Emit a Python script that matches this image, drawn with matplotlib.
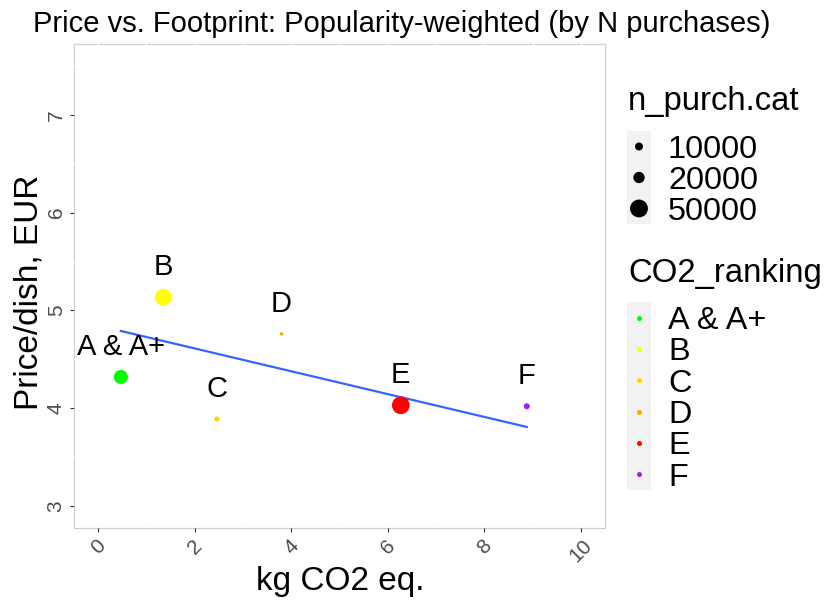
import matplotlib
matplotlib.use("Agg")
import matplotlib.pyplot as plt
from matplotlib.patches import Rectangle
import numpy as np

plt.rcParams['font.family'] = ['Liberation Sans', 'DejaVu Sans']

# CO2 rank groups: mean footprint, mean price, number of purchases
ranking = ['A & A+', 'B', 'C', 'D', 'E', 'F']
co2_kg = [0.47, 1.35, 2.46, 3.80, 6.27, 8.88]
price_eur = [4.32, 5.135, 3.89, 4.76, 4.03, 4.02]
n_purch = [30600, 43600, 4400, 1900, 49000, 5600]
rank_colors = ['#00FF00', '#FFFF00', '#FFD700', '#FFA500', '#FF0000', '#A020F0']

size_breaks = [10000, 20000, 50000]
x_ticks = [0, 2, 4, 6, 8, 10]
y_ticks = [3, 4, 5, 6, 7]

W, H = 827, 603
DPI = 100


def msize(n):
    # marker area (pt^2) grows linearly with purchase count
    return 0.003318 * np.asarray(n, dtype=float)


fig = plt.figure(figsize=(W / DPI, H / DPI), dpi=DPI)
px = lambda x0, y0, w, h: [x0 / W, 1 - (y0 + h) / H, w / W, h / H]
ax = fig.add_axes(px(74, 44, 531, 484))

x = np.array(co2_kg)
y = np.array(price_eur)
w = np.array(n_purch, dtype=float)

# popularity-weighted linear fit
slope, icpt = np.polyfit(x, y, 1, w=np.sqrt(w))
xs = np.array([x.min(), x.max()])
ax.plot(xs, icpt + slope * xs, color='#3366FF', lw=1.6, zorder=3)

ax.scatter(x, y, s=msize(w), c=rank_colors, edgecolors='none', zorder=4)
for xi, yi, lab in zip(x, y, ranking):
    ax.text(xi, yi + 0.225, lab, ha='center', va='baseline', fontsize=21, zorder=5)

ax.set_xlim(-0.5, 10.5)
ax.set_ylim(2.775, 7.725)
ax.set_xticks(x_ticks)
ax.set_yticks(y_ticks)
ax.set_xticks(np.arange(1, 10, 2), minor=True)
ax.set_yticks(np.arange(3.5, 7.6, 1), minor=True)
ax.set_xticklabels([str(t) for t in x_ticks], rotation=45, ha='center', va='top')
ax.set_yticklabels([str(t) for t in y_ticks], rotation=90, va='center')
ax.tick_params(axis='both', which='major', length=3, width=0.8, color='#333333',
               labelcolor='#4D4D4D', labelsize=15, pad=3)
ax.tick_params(axis='both', which='minor', length=0)
for sp in ax.spines.values():
    sp.set_visible(False)
ax.add_patch(Rectangle((0, 0), 1, 1, transform=ax.transAxes, fill=False,
                       ec='#D0D0D0', lw=0.9, zorder=0.4, clip_on=False))
ax.set_axisbelow(True)
ax.grid(True, which='both', color='white', lw=1.0)

# overlay in pixel coordinates for titles and legends
lay = fig.add_axes([0, 0, 1, 1])
lay.set_xlim(0, W)
lay.set_ylim(H, 0)
lay.axis('off')
lay.patch.set_visible(False)

lay.text(33, 32, 'Price vs. Footprint: Popularity-weighted (by N purchases)',
         fontsize=21, ha='left', va='baseline')
lay.text(340, 590, 'kg CO2 eq.', fontsize=24, ha='center', va='baseline')
lay.text(38, 292, 'Price/dish, EUR', fontsize=24, rotation=90, ha='center',
         va='baseline', rotation_mode='anchor')

# size legend
lay.text(628, 110, 'n_purch.cat', fontsize=23.7, ha='left', va='baseline')
lay.add_patch(Rectangle((627, 131), 24, 93, fc='#F2F2F2', ec='none'))
for i, b in enumerate(size_breaks):
    cy = 146.5 + 31 * i
    lay.scatter([639], [cy], s=msize([b]), color='black', edgecolors='none')
    lay.text(668, cy + 11.5, str(b), fontsize=23.3, ha='left', va='baseline')

# colour legend
lay.text(628, 281.7, 'CO2_ranking', fontsize=23.7, ha='left', va='baseline')
lay.add_patch(Rectangle((627, 302), 24, 188, fc='#F2F2F2', ec='none'))
for i, (lab, col) in enumerate(zip(ranking, rank_colors)):
    cy = 317.7 + 31.3 * i
    lay.plot([639], [cy], 'o', ms=3.6, color=col, mec='none')
    lay.text(668, cy + 11.5, lab, fontsize=23.3, ha='left', va='baseline')

fig.savefig('out.png', dpi=DPI)
